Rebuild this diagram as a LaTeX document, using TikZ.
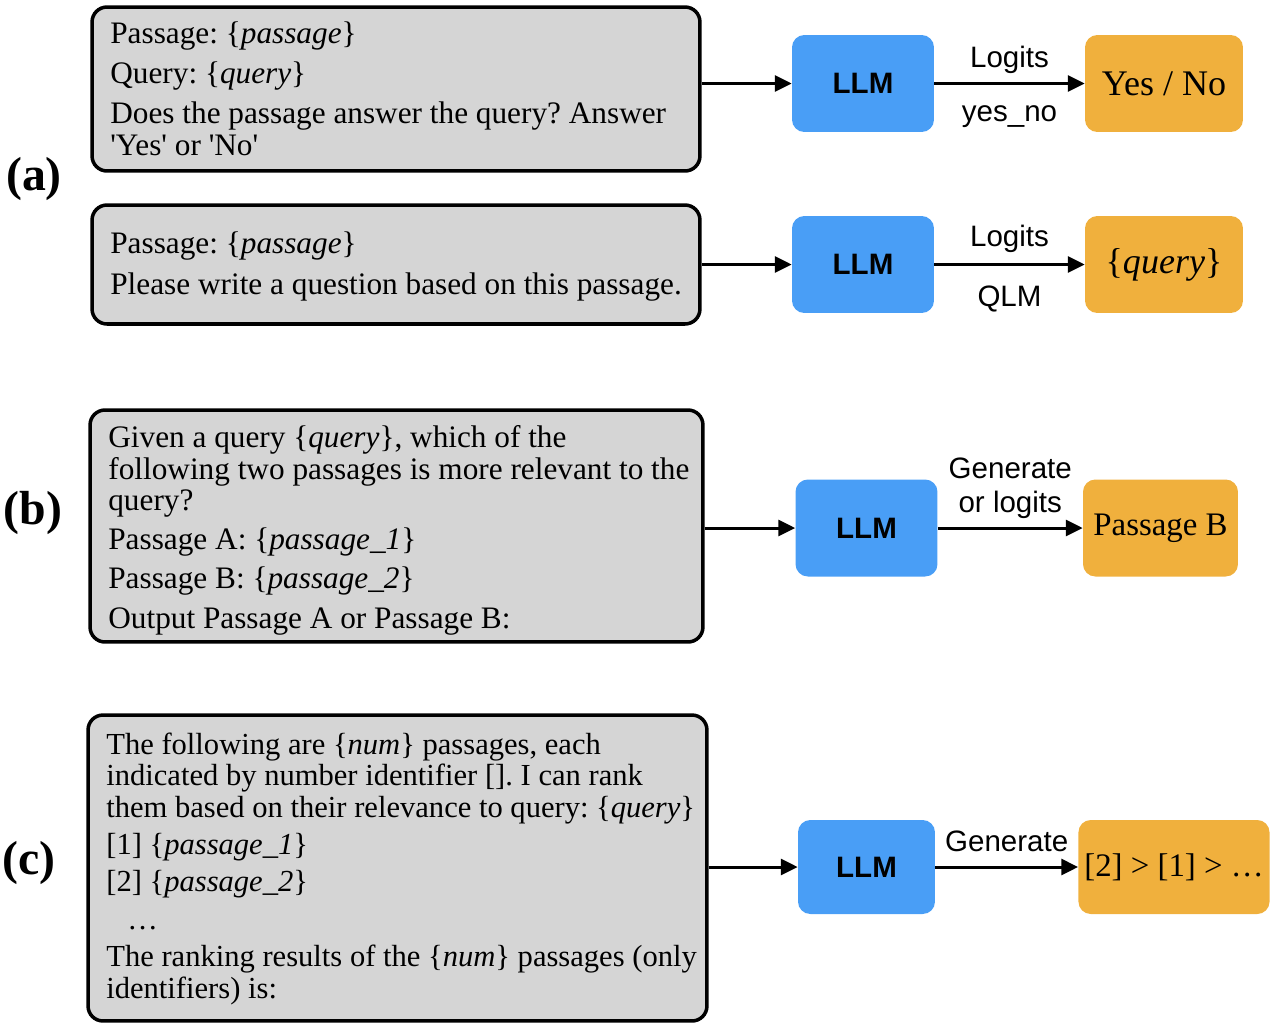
\documentclass[tikz,border=0pt]{standalone}
\usepackage{fontspec}
\setmainfont{Liberation Serif}
\setsansfont{Liberation Sans}
\usepackage{xcolor}
\usepackage{tikz}
\usetikzlibrary{arrows.meta}
\definecolor{caja}{HTML}{D5D5D5}
\definecolor{modelo}{HTML}{499EF6}
\definecolor{salida}{HTML}{F0B03D}

\tikzset{
  prompt/.style={draw=black, line width=2pt, fill=caja, rounded corners=8.5pt},
  prompttext/.style={anchor=base west, align=left, inner sep=0pt, font=\frenchspacing\fontsize{17.8}{17.8}\selectfont},
  llm/.style={fill=modelo, rounded corners=7pt, minimum width=2.84cm, minimum height=1.94cm, font=\sffamily\bfseries\fontsize{16.8}{20}\selectfont},
  salidabox/.style={fill=salida, rounded corners=7pt, minimum height=1.94cm},
  flecha/.style={line width=1.7pt, -{Triangle[length=9.5pt,width=9pt]}},
  etiqueta/.style={anchor=base, inner sep=0pt, font=\sffamily\fontsize{16.8}{19.5}\selectfont},
  letra/.style={anchor=base, inner sep=0pt, font=\bfseries\fontsize{27.2}{30}\selectfont}
}

\begin{document}
\begin{tikzpicture}[x=0.02cm, y=-0.02cm]
        \useasboundingbox (0,0) rectangle (1275,1032);
        % Letras de cada parte
        \node[letra] (la) at (34,190) {(a)};
        \node[letra] (lb) at (33,524) {(b)};
        \node[letra] (lc) at (29,874) {(c)};

        % (a) pregunta yes / no  (el texto se ancla en su ultima linea)
        \node[prompt, minimum width=12.16cm, minimum height=3.28cm] (pa1) at (396,89) {};
        \node[prompttext] (ta1) at (110,155)
            {Passage: \{\textit{passage}\}\\[5pt]
             Query: \{\textit{query}\}\\[5pt]
             Does the passage answer the query? Answer\\
             \textquotesingle Yes\textquotesingle{} or \textquotesingle No\textquotesingle};
        \node[llm] (m1) at (863,83.5) {LLM};
        \node[salidabox, minimum width=3.16cm, font=\fontsize{20.5}{24}\selectfont] (o1) at (1164,83.5) {Yes / No};
        \draw[flecha] (pa1.east |- m1.west) -- (m1.west);
        \draw[flecha] (m1.east) -- (o1.west)
            node[etiqueta, midway, yshift=9pt] (e1) {Logits}
            node[etiqueta, midway, yshift=-21.5pt] (e2) {yes\_no};

        % (a) QLM
        \node[prompt, minimum width=12.16cm, minimum height=2.38cm] (pa2) at (396,264.5) {};
        \node[prompttext] (ta2) at (110,294)
            {Passage: \{\textit{passage}\}\\[5pt]
             Please write a question based on this passage.};
        \node[llm] (m2) at (863,264.5) {LLM};
        \node[salidabox, minimum width=3.16cm, font=\fontsize{20.5}{24}\selectfont] (o2) at (1164,264.5) {\{\textit{query}\}};
        \draw[flecha] (pa2.east |- m2.west) -- (m2.west);
        \draw[flecha] (m2.east) -- (o2.west)
            node[etiqueta, midway, yshift=10pt] (e3) {Logits}
            node[etiqueta, midway, yshift=-24pt] (e4) {QLM};

        % (b) por pares
        \node[prompt, minimum width=12.26cm, minimum height=4.64cm] (pb) at (396.5,526) {};
        \node[prompttext] (tb) at (108,628)
            {Given a query \{\textit{query}\}, which of the\\
             following two passages is more relevant to the\\
             query?\\[4.5pt]
             Passage A: \{\textit{passage\_1}\}\\[4.5pt]
             Passage B: \{\textit{passage\_2}\}\\[4.5pt]
             Output Passage A or Passage B:};
        \node[llm] (m3) at (866.5,528) {LLM};
        \node[salidabox, minimum width=3.1cm, font=\fontsize{18.7}{22}\selectfont] (o3) at (1160.5,528) {Passage B};
        \draw[flecha] (pb.east |- m3.west) -- (m3.west);
        \draw[flecha] (m3.east) -- (o3.west)
            node[etiqueta, midway, yshift=28.3pt] (e5) {Generate}
            node[etiqueta, midway, yshift=9pt] (e6) {or logits};

        % (c) por lista
        \node[prompt, minimum width=12.38cm, minimum height=6.12cm] (pc) at (397.5,868) {};
        \node[prompttext, font=\frenchspacing\fontsize{17.4}{17.8}\selectfont] (tc) at (106,998)
            {The following are \{\textit{num}\} passages, each\\
             indicated by number identifier []. I can rank\\
             them based on their relevance to query: \{\textit{query}\}\\[3.5pt]
             [1] \{\textit{passage\_1}\}\\[3.5pt]
             [2] \{\textit{passage\_2}\}\\[3.5pt]
             \hspace{12pt}\ldots\\[3.5pt]
             The ranking results of the \{\textit{num}\} passages (only\\
             identifiers) is:};
        \node[llm, minimum width=2.74cm, minimum height=1.88cm] (m4) at (866.5,867) {LLM};
        \node[salidabox, minimum width=3.72cm, minimum height=1.88cm, font=\fontsize{18.7}{22}\selectfont] (o4) at (1174,867) {[2] > [1] > \ldots};
        \draw[flecha] (pc.east |- m4.west) -- (m4.west);
        \draw[flecha] (m4.east) -- (o4.west)
            node[etiqueta, midway, yshift=9pt] (e7) {Generate};
\end{tikzpicture}
\end{document}
